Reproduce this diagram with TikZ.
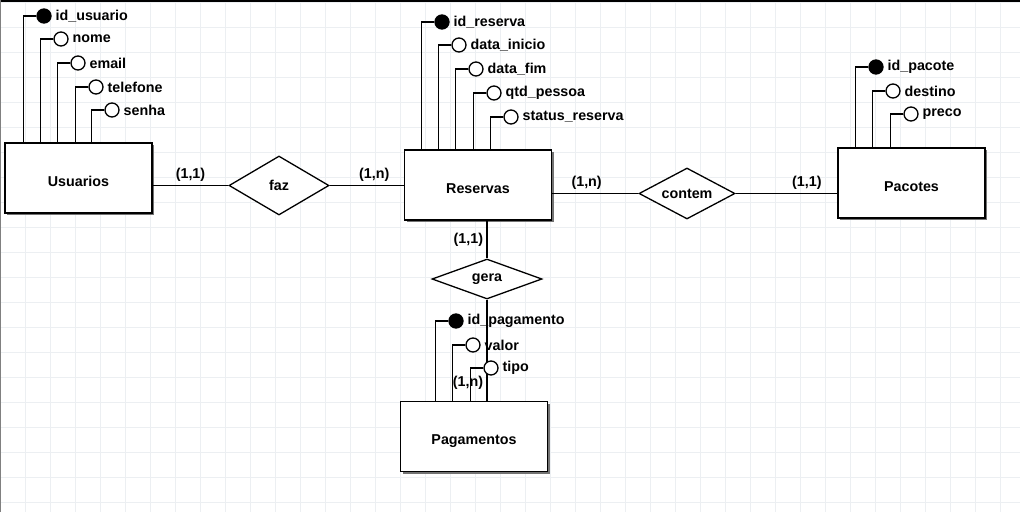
\documentclass[tikz,border=0pt]{standalone}
\usepackage{fontspec}
\setmainfont{Liberation Sans}
\usetikzlibrary{shapes.geometric,shadows,backgrounds}
\definecolor{gridline}{RGB}{236,239,242}

\begin{document}
\begin{tikzpicture}[x=1pt, y=-1pt, line width=1.3pt,
    font=\bfseries\fontsize{14.3}{16}\selectfont,
    entity/.style={draw, fill=white, minimum width=147pt, minimum
      height=70pt, text height=16pt, text depth=0pt, drop
      shadow={shadow xshift=2pt, shadow yshift=-2pt, fill=black!55,
        opacity=1}},
    rel/.style={draw, diamond, aspect=2, fill=white, inner sep=0pt},
    attr/.style={draw, circle, fill=white, minimum size=14pt, inner
      sep=0pt, label distance=5pt},
    key/.style={attr, fill=black}]
    \useasboundingbox (0,0) rectangle (1020,512);
    \begin{scope}[on background layer]
      \begin{scope}[draw=gridline, line width=0.8pt]
        \foreach \x in {25,50,...,1000} \draw (\x,0) -- (\x,512);
        \foreach \y in {2,27,...,502} \draw (0,\y) -- (1020,\y);
      \end{scope}
      \draw [black, line width=2pt] (0,1) -- (1020,1);
      \draw [gray, line width=1.2pt] (0.6,0) -- (0.6,512);
    \end{scope}

    \begin{scope}[every node/.style={entity}]
      \node (usu) at (78.5,178) {Usuarios}; \node (res) at (478,185)
      {Reservas}; \node (pac) at (911.5,183) {Pacotes}; \node (pag) at
      (474,436.5) {Pagamentos};
    \end{scope}
    \begin{scope}[every node/.style={rel}]
      \node [minimum width=100pt, minimum height=59pt] (faz) at
      (279,185.5) {faz}; \node [minimum width=96pt, minimum
      height=51pt] (contem) at (687,193.5) {contem}; \node [minimum
      width=110pt, minimum height=40pt] (gera) at (487,279) {gera};
    \end{scope}

    \node [key, label=right:id\_usuario] (u1) at (44,16) {};
    \foreach \t/\x/\y [count=\i from 2] in {nome/61/39, email/78/63,
      telefone/96/87, senha/112/110}
    \node [attr, label=right:\t] (u\i) at (\x,\y) {};
    \foreach \i in {1,...,5} \draw (u\i.west) -- ++(-13,0) coordinate
    (k) -- (k |- usu.north);

    \node [key, label=right:id\_reserva] (r1) at (442,22) {};
    \foreach \t/\x/\y [count=\i from 2] in {data\_inicio/459/45,
      data\_fim/476/69, qtd\_pessoa/494/93, status\_reserva/511/117}
    \node [attr, label=right:\t] (r\i) at (\x,\y) {};
    \foreach \i in {1,...,5} \draw (r\i.west) -- ++(-13,0) coordinate
    (k) -- (k |- res.north);

    \node [key, label=right:id\_pacote] (p1) at (876,67) {};
    \foreach \t/\x/\y [count=\i from 2] in {destino/893/91,
      preco/911/114}
    \node [attr, label=right:\t] (p\i) at (\x,\y) {};
    \foreach \i in {1,...,3} \draw (p\i.west) -- ++(-13,0) coordinate
    (k) -- (k |- pac.north);

    \begin{scope}[auto]
      \draw (usu.east |- faz) to node [above] {(1,1)} (faz); \draw
      (faz) to node [above, pos=0.6] {(1,n)} (faz -| res.west); \draw
      (res.east |- contem) to node [above, pos=0.4] {(1,n)} (contem);
      \draw (contem) to node [above, pos=0.7] {(1,1)} (contem -|
      pac.west); \draw (res.south -| gera) to node [left] {(1,1)}
      (gera); \draw (gera) to node [left, pos=0.82] {(1,n)} (gera |-
      pag.north);
    \end{scope}

    \node [key, label=right:id\_pagamento] (g1) at (456,321) {};
    \foreach \t/\x/\y [count=\i from 2] in {valor/473/345, tipo/491/368}
    \node [attr, label=right:\t] (g\i) at (\x,\y) {};
    \foreach \i in {1,...,3} \draw (g\i.west) -- ++(-13,0) coordinate
    (k) -- (k |- pag.north);
  \end{tikzpicture}
\end{document}
